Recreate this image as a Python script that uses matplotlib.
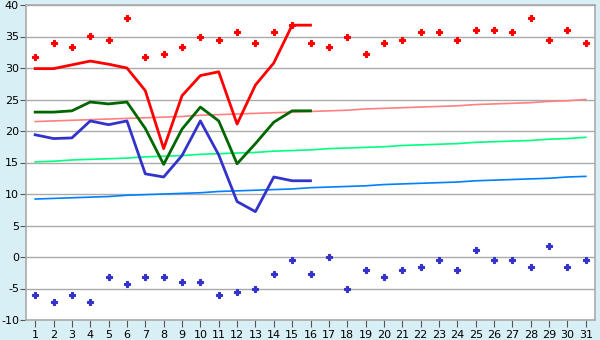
import numpy as np
import matplotlib
matplotlib.use("Agg")
from matplotlib import pyplot as plt

plt.rcParams["axes.unicode_minus"] = False

days = list(range(1, 32))

# record max / record min per day (markers)
rec_max = [31.7, 33.9, 33.3, 35.1, 34.4, 37.9, 31.7, 32.2, 33.3, 35.0,
           34.4, 35.7, 33.9, 35.7, 36.8, 33.9, 33.3, 35.0, 32.2, 33.9,
           34.4, 35.7, 35.7, 34.4, 36.1, 36.1, 35.7, 37.9, 34.4, 36.1, 33.9]
rec_min = [-6.1, -7.2, -6.1, -7.2, -3.2, -4.3, -3.2, -3.2, -3.9, -3.9,
           -6.1, -5.6, -5.0, -2.7, -0.5, -2.7, 0.0, -5.0, -2.1, -3.2,
           -2.1, -1.6, -0.5, -2.1, 1.1, -0.5, -0.5, -1.6, 1.7, -1.6, -0.5]

# observed days 1..16
obs_days = list(range(1, 17))
t_max = [29.9, 29.9, 30.5, 31.1, 30.6, 30.0, 26.4, 17.2, 25.6, 28.8,
         29.4, 21.1, 27.3, 30.8, 36.8, 36.8]
t_mean = [23.0, 23.0, 23.2, 24.6, 24.3, 24.6, 20.4, 14.7, 20.3, 23.8,
          21.6, 14.8, 18.0, 21.4, 23.2, 23.2]
t_min = [19.4, 18.8, 18.9, 21.6, 21.0, 21.6, 13.2, 12.7, 16.1, 21.6,
         16.2, 8.8, 7.2, 12.7, 12.1, 12.1]

# normals
norm_max = [21.5, 21.6, 21.7, 21.8, 21.9, 22.0, 22.1, 22.2, 22.3, 22.5,
            22.6, 22.7, 22.8, 22.9, 23.0, 23.1, 23.2, 23.3, 23.5, 23.6,
            23.7, 23.8, 23.9, 24.0, 24.2, 24.3, 24.4, 24.5, 24.7, 24.8, 25.0]
norm_mean = [15.1, 15.2, 15.4, 15.5, 15.6, 15.7, 15.9, 16.0, 16.1, 16.3,
             16.4, 16.5, 16.6, 16.8, 16.9, 17.0, 17.2, 17.3, 17.4, 17.5,
             17.7, 17.8, 17.9, 18.0, 18.2, 18.3, 18.4, 18.5, 18.7, 18.8, 19.0]
norm_min = [9.2, 9.3, 9.4, 9.5, 9.6, 9.8, 9.9, 10.0, 10.1, 10.2,
            10.4, 10.5, 10.6, 10.7, 10.8, 11.0, 11.1, 11.2, 11.3, 11.5,
            11.6, 11.7, 11.8, 11.9, 12.1, 12.2, 12.3, 12.4, 12.5, 12.7, 12.8]

bg = "#d9eff6"
gridc = "#aaaaaa"

fig = plt.figure(figsize=(6, 3.4), dpi=100, facecolor=bg)
ax = fig.add_axes([26 / 600, 1 - 320 / 340, 569 / 600, 315 / 340])
ax.set_facecolor("white")

ax.plot(days, norm_max, color="#ff8080", lw=1.2, zorder=2)
ax.plot(days, norm_mean, color="#00ff80", lw=1.2, zorder=2)
ax.plot(days, norm_min, color="#0080ff", lw=1.2, zorder=2)

ax.plot(obs_days, t_max, color="#ff0000", lw=2, zorder=3)
ax.plot(obs_days, t_mean, color="#006600", lw=2, zorder=3)
ax.plot(obs_days, t_min, color="#3333cc", lw=2, zorder=3)

ax.plot(days, rec_max, ls="none", marker="P", ms=4.5, color="#ff0000",
        mec="#ff0000", mew=0.8, zorder=4)
ax.plot(days, rec_min, ls="none", marker="P", ms=4.5, color="#3333cc",
        mec="#3333cc", mew=0.8, zorder=4)

ax.set_xlim(0.5, 31.5)
ax.set_ylim(-10, 40)
ax.set_xticks(days)
ax.set_yticks(range(-10, 41, 5))
ax.yaxis.grid(True, color=gridc, lw=1)
ax.set_axisbelow(True)
for s in ax.spines.values():
    s.set_color(gridc)
    s.set_linewidth(1.2)
ax.tick_params(axis="x", length=5, color="#555555", labelsize=8, pad=2)
ax.tick_params(axis="y", length=4, color="#555555", labelsize=8, pad=1)

fig.savefig("out.png", dpi=100, facecolor=bg)
